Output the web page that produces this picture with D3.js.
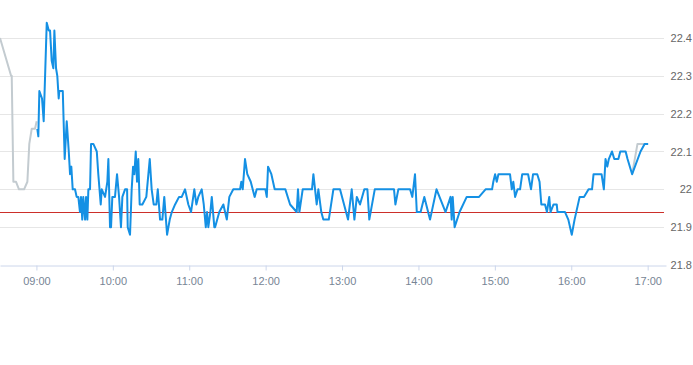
<!DOCTYPE html>
<html>
<head>
<meta charset="utf-8">
<script src="https://cdn.jsdelivr.net/npm/d3@7"></script>
<style>
  html, body { margin: 0; padding: 0; background: #ffffff; }
  svg { display: block; font-family: "Liberation Sans", Arial, sans-serif; }
</style>
</head>
<body>
<svg id="chart" width="693" height="365"></svg>
<script>
// Minutes after 09:00 and price values
const preMinutes = [-28.6, -19.9, -19.4, -19.2, -18.1, -16.0, -13.7, -9.7, -7.1, -5.6, -3.7, -1.1, 0.2];
const preValues  = [22.40, 22.30, 22.30, 22.26, 22.02, 22.02, 22.00, 22.00, 22.02, 22.12, 22.16, 22.16, 22.18];

const mainMinutes = [0.7,1.5,2.3,4.4,5.7,8.1,9.7,10.7,12.0,13.3,14.1,15.4,16.4,17.5,18.0,20.7,22.2,23.8,25.4,26.4,27.4,28.5,30.3,31.6,32.9,34.2,35.0,36.0,36.8,38.2,39.0,40.0,40.8,42.1,42.9,44.7,47.4,48.6,50.5,51.3,53.9,55.7,56.5,57.8,58.6,59.6,61.7,63.3,64.9,66.4,67.5,69.6,71.2,71.7,73.5,74.8,75.9,76.9,78.0,79.0,80.0,81.1,83.2,86.3,89.0,90.5,92.1,94.2,95.3,97.1,98.9,100.4,102.6,104.7,106.3,108.9,112.0,114.1,116.7,119.3,121.4,124.0,125.6,127.1,129.8,131.4,133.0,134.0,135.0,136.6,137.7,139.7,140.3,143.6,146.8,149.5,151.5,154.6,159.9,160.9,162.0,163.8,165.6,168.3,171.4,173.0,179.8,180.9,181.9,184.5,187.1,195.5,199.2,204.4,205.4,206.5,209.1,216.4,217.5,220.1,221.4,223.7,225.3,229.6,233.2,238.4,244.7,247.6,249.7,251.6,254.1,257.5,259.9,261.4,265.7,280.8,281.9,284.2,293.4,295.2,297.3,298.7,301.7,304.6,309.1,314.2,321.3,325.2,326.1,326.9,328.4,332.3,337.9,347.6,352.7,357.8,358.8,360.2,361.5,362.8,371.9,373.3,374.5,375.9,377.8,379.8,381.5,386.1,388.4,390.0,393.3,395.1,396.5,399.4,400.9,402.7,403.7,406.1,408.6,409.2,415.1,417.7,420.4,422.6,426.6,430.0,433.6,436.3,437.5,443.8,445.6,446.9,448.3,449.5,452.0,453.8,457.0,458.5,462.7,464.2,467.8,474.4,477.6,480.4];
const mainValues  = [22.16,22.14,22.26,22.24,22.18,22.44,22.42,22.42,22.34,22.32,22.42,22.32,22.30,22.24,22.26,22.26,22.08,22.18,22.10,22.04,22.06,22.00,22.00,21.98,21.98,21.94,21.98,21.92,21.98,21.92,21.98,21.92,22.00,22.00,22.12,22.12,22.10,22.04,21.96,22.00,21.98,22.02,22.08,21.90,21.90,21.98,21.98,22.04,21.98,21.90,21.98,22.00,22.00,21.90,21.88,22.00,22.06,22.04,22.10,22.02,22.08,21.96,21.96,21.98,22.08,22.00,21.96,21.96,22.00,21.92,21.92,21.98,21.88,21.92,21.94,21.96,21.98,21.98,22.00,21.96,21.94,22.00,21.96,21.98,22.00,21.96,21.90,21.94,21.90,21.94,21.98,21.90,21.90,21.94,21.96,21.92,21.98,22.00,22.00,22.02,22.00,22.08,22.04,22.02,21.98,22.00,22.00,21.98,22.06,22.04,22.00,22.00,21.96,21.94,22.00,21.94,22.00,22.00,22.04,21.96,22.00,21.94,21.92,21.92,22.00,22.00,21.92,22.00,21.92,21.98,21.96,22.00,22.00,21.92,22.00,22.00,21.96,22.00,22.00,21.98,22.04,21.94,21.94,21.98,21.92,22.00,21.94,21.98,21.92,21.98,21.90,21.94,21.98,21.98,22.00,22.00,22.02,22.04,22.02,22.04,22.04,22.00,22.02,21.98,22.00,22.00,22.04,22.04,22.00,22.04,22.04,22.02,21.96,21.96,21.94,21.98,21.94,21.96,21.96,21.94,21.94,21.92,21.88,21.92,21.98,21.98,22.00,22.00,22.04,22.04,22.00,22.08,22.06,22.08,22.10,22.08,22.08,22.10,22.10,22.08,22.04,22.10,22.12,22.12];

const postMinutes = [467.8, 472.0, 479.3];
const postValues  = [22.04, 22.12, 22.12];

const referenceValue = 21.94;
const yTickValues = [21.8, 21.9, 22.0, 22.1, 22.2, 22.3, 22.4];
const xTickMinutes = [0, 60, 120, 180, 240, 300, 360, 420, 480];
const xTickLabels = ["09:00","10:00","11:00","12:00","13:00","14:00","15:00","16:00","17:00"];

const svg = d3.select("#chart");
const plotLeft = 0, plotRight = 666, plotTop = 38, plotBottom = 265;

const x = d3.scaleLinear().domain([-28.6, 494.4]).range([plotLeft, plotRight]);
const y = d3.scaleLinear().domain([21.8, 22.4]).range([plotBottom, plotTop]);

// grid lines
svg.append("g").selectAll("line")
  .data(yTickValues.filter(v => v > 21.8))
  .join("line")
  .attr("x1", plotLeft).attr("x2", plotRight - 2)
  .attr("y1", d => Math.round(y(d)) + 0.5).attr("y2", d => Math.round(y(d)) + 0.5)
  .attr("stroke", "#e6e6e6").attr("stroke-width", 1);

// x axis
const xAxis = d3.axisBottom(x)
  .tickValues(xTickMinutes)
  .tickFormat((d, i) => xTickLabels[i])
  .tickSizeInner(5).tickSizeOuter(0).tickPadding(7);
const gx = svg.append("g").attr("transform", `translate(0,${plotBottom + 0.5})`).call(xAxis);
gx.select(".domain").attr("stroke", "#ccd6eb");
gx.selectAll(".tick line").attr("stroke", "#ccd6eb");
gx.selectAll(".tick text").attr("fill", "#778595").attr("font-size", "11px")
  .attr("font-family", "'Liberation Sans', Arial, sans-serif");

// y axis labels (right side)
const yAxis = d3.axisRight(y)
  .tickValues(yTickValues)
  .tickFormat(d => d3.format("")(+d.toFixed(1)))
  .tickSize(0).tickPadding(0);
const gy = svg.append("g").attr("transform", `translate(692,0)`).call(yAxis);
gy.select(".domain").remove();
gy.selectAll(".tick text").attr("text-anchor", "end").attr("fill", "#666666")
  .attr("font-size", "11px").attr("font-family", "'Liberation Sans', Arial, sans-serif");

// reference line
svg.append("line")
  .attr("x1", plotLeft).attr("x2", plotRight - 2)
  .attr("y1", Math.round(y(referenceValue)) + 0.5).attr("y2", Math.round(y(referenceValue)) + 0.5)
  .attr("stroke", "#cc2f2a").attr("stroke-width", 1);

const line = d3.line().x(d => x(d[0])).y(d => y(d[1]));

const pre = preMinutes.map((m, i) => [m, preValues[i]]);
const post = postMinutes.map((m, i) => [m, postValues[i]]);
const main = mainMinutes.map((m, i) => [m, mainValues[i]]);

svg.append("path").datum(pre).attr("d", line)
  .attr("fill", "none").attr("stroke", "#c3cbd0").attr("stroke-width", 2).attr("stroke-linejoin", "round");
svg.append("path").datum(post).attr("d", line)
  .attr("fill", "none").attr("stroke", "#c3cbd0").attr("stroke-width", 2).attr("stroke-linejoin", "round");
svg.append("path").datum(main).attr("d", line)
  .attr("fill", "none").attr("stroke", "#1490e4").attr("stroke-width", 2).attr("stroke-linejoin", "round");
</script>
</body>
</html>
